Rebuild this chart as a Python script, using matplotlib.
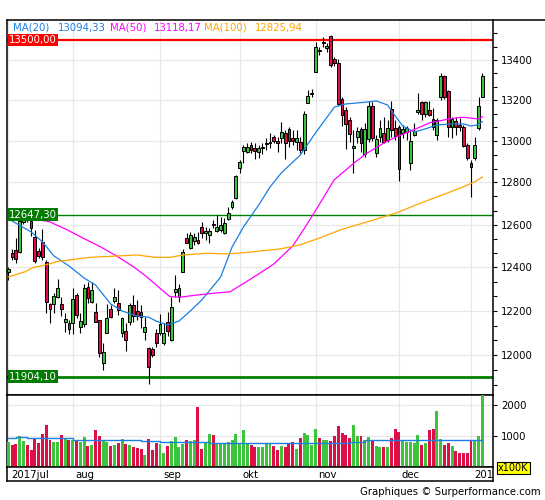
import numpy as np
import matplotlib.pyplot as plt
from matplotlib.ticker import FixedLocator, NullFormatter, FuncFormatter
from matplotlib.transforms import blended_transform_factory
from matplotlib.lines import Line2D

# daily candles, oldest first (one per trading day)
opens = [12379, 12468, 12481, 12470, 12612, 12645, 12617, 12542, 12477, 12520,
         12427, 12232, 12232, 12264, 12232, 12152, 12144, 12145, 12273, 12129,
         12143, 12308, 12239, 12196, 12159, 11963, 12101, 12207, 12247, 12235,
         12101, 12109, 12151, 12227, 12200, 12196, 12105, 12031, 12026, 12098,
         12101, 12053, 12150, 12068, 12285, 12266, 12380, 12536, 12489, 12525,
         12528, 12591, 12560, 12551, 12603, 12570, 12575, 12560, 12627, 12682,
         12724, 12868, 12953, 12948, 12981, 12964, 12948, 12968, 12986, 12992,
         13018, 13002, 13013, 13037, 13057, 13013, 12997, 12997, 12956, 13185,
         13228, 13341, 13447, 13487, 13458, 13520, 13403, 13383, 13204, 13151,
         13102, 12964, 13021, 13057, 12937, 13008, 13171, 12943, 13021, 13037,
         13005, 13154, 13062, 13070, 13037, 13045, 12895, 13029, 13140, 13190,
         13132, 13151, 13105, 13029, 13214, 13317, 13247, 13066, 13098, 13078,
         13070, 12981, 12895, 12916, 13062, 13217]
highs = [12402, 12486, 12537, 12627, 12678, 12669, 12631, 12575, 12491, 12579,
         12435, 12238, 12282, 12347, 12264, 12190, 12159, 12305, 12282, 12190,
         12324, 12333, 12334, 12235, 12159, 12053, 12232, 12227, 12304, 12296,
         12173, 12144, 12238, 12273, 12250, 12227, 12171, 12035, 12038, 12116,
         12186, 12144, 12195, 12262, 12365, 12324, 12486, 12560, 12566, 12560,
         12566, 12614, 12591, 12584, 12622, 12645, 12637, 12629, 12682, 12716,
         12836, 12908, 12981, 12989, 12997, 12992, 12981, 12992, 13013, 13037,
         13029, 13021, 13094, 13054, 13070, 13054, 13054, 13021, 13146, 13250,
         13254, 13492, 13463, 13514, 13487, 13525, 13413, 13403, 13217, 13164,
         13115, 13054, 13070, 13070, 13086, 13198, 13193, 13029, 13102, 13115,
         13102, 13198, 13102, 13078, 13078, 13073, 13049, 13086, 13237, 13198,
         13198, 13198, 13159, 13110, 13333, 13325, 13250, 13115, 13118, 13110,
         13078, 12989, 12908, 13021, 13214, 13333]
lows = [12342, 12435, 12421, 12467, 12603, 12612, 12547, 12421, 12446, 12435,
        12192, 12144, 12192, 12259, 12177, 12104, 12095, 12095, 12168, 12100,
        12128, 12236, 12235, 12150, 11993, 11934, 12098, 12166, 12235, 12181,
        12083, 12020, 12136, 12151, 12159, 12121, 12068, 11871, 11990, 12035,
        12091, 12046, 12085, 12062, 12266, 12242, 12380, 12512, 12486, 12505,
        12510, 12536, 12528, 12515, 12584, 12563, 12563, 12556, 12622, 12673,
        12721, 12844, 12892, 12940, 12940, 12911, 12916, 12937, 12956, 12964,
        12992, 12948, 12989, 12911, 12972, 12981, 12956, 12943, 12937, 13185,
        13217, 13341, 13425, 13466, 13441, 13366, 13369, 13176, 13073, 12960,
        12997, 12847, 12989, 12948, 12924, 12997, 13002, 12921, 12997, 12989,
        12997, 13018, 13005, 12809, 13013, 13005, 12860, 13024, 13132, 13102,
        13115, 13122, 13054, 13005, 13201, 13204, 13021, 13013, 13029, 13049,
        12970, 12908, 12732, 12908, 13054, 13214]
closes = [12393, 12447, 12437, 12617, 12650, 12622, 12584, 12432, 12453, 12449,
          12241, 12209, 12268, 12305, 12211, 12163, 12120, 12253, 12181, 12156,
          12305, 12259, 12296, 12151, 12011, 12013, 12166, 12173, 12262, 12204,
          12166, 12068, 12227, 12177, 12177, 12171, 12125, 11946, 12001, 12056,
          12140, 12101, 12110, 12217, 12299, 12304, 12473, 12515, 12551, 12540,
          12516, 12560, 12568, 12570, 12598, 12591, 12598, 12606, 12656, 12708,
          12831, 12900, 12969, 12969, 12956, 12953, 12964, 12973, 12989, 12995,
          13000, 12992, 13045, 12989, 13002, 13002, 13013, 12956, 13134, 13221,
          13233, 13463, 13443, 13492, 13470, 13374, 13383, 13181, 13127, 13083,
          13034, 12975, 13049, 12992, 13057, 13171, 13013, 13008, 13062, 12997,
          13062, 13054, 13024, 12863, 13057, 13062, 13000, 13050, 13151, 13132,
          13190, 13127, 13066, 13102, 13317, 13214, 13070, 13105, 13070, 13070,
          12976, 12916, 12872, 12981, 13171, 13320]
# volume in units of 100K
volumes = [811, 703, 735, 995, 832, 703, 540, 908, 768, 1059,
           1351, 865, 800, 800, 1027, 908, 865, 865, 886, 800,
           962, 670, 703, 1189, 995, 865, 800, 670, 703, 778,
           908, 735, 703, 649, 627, 595, 378, 919, 540, 778,
           735, 454, 670, 832, 973, 649, 757, 865, 832, 865,
           1946, 595, 778, 1059, 1027, 778, 778, 735, 811, 865,
           1059, 735, 1189, 745, 723, 660, 660, 660, 745, 745,
           692, 553, 692, 638, 766, 819, 585, 947, 1107, 1043,
           723, 1234, 947, 883, 883, 851, 1011, 1330, 1107, 1043,
           926, 1362, 1011, 1011, 883, 979, 851, 692, 660, 660,
           660, 947, 1234, 1139, 883, 819, 819, 766, 1043, 723,
           777, 1202, 1234, 1809, 915, 723, 787, 692, 532, 447,
           447, 447, 851, 851, 1011, 2450]

# moving averages (candle index, value)
ma20_x = [1, 6, 9, 12, 16, 20, 23, 27, 30, 34, 37, 39, 42, 45, 48, 51, 56, 59, 62,
          66, 69, 72, 77, 81, 86, 89, 95, 97, 100, 102, 104, 107, 110, 113, 117,
          120, 122, 123.5, 125]
ma20_y = [12617, 12566, 12519, 12454, 12407, 12351, 12319, 12232, 12200, 12177,
          12172, 12154, 12136, 12154, 12200, 12250, 12356, 12495, 12589, 12692,
          12778, 12846, 12932, 13039, 13166, 13181, 13191, 13196, 13176, 13122,
          13073, 13044, 13059, 13078, 13083, 13083, 13073, 13078, 13094]
ma50_x = [0, 5, 10.8, 15, 19.8, 24.2, 28.6, 33, 36.5, 40, 42.6, 45.3, 48.8, 54.1,
          58.5, 62.4, 66, 70, 75, 77.8, 81.1, 85.9, 91.2, 94.5, 96.7, 98.9, 102.2,
          106.8, 111.2, 115.6, 119.1, 120.4, 122.6, 124, 125]
ma50_y = [12645, 12631, 12614, 12580, 12536, 12497, 12453, 12403, 12357, 12304,
          12266, 12263, 12271, 12281, 12288, 12330, 12370, 12416, 12500, 12575,
          12669, 12812, 12894, 12940, 12964, 12989, 13019, 13054, 13089, 13105,
          13115, 13115, 13110, 13107, 13118]
ma100_x = [0, 4.4, 6.6, 9.7, 12.8, 15, 19.8, 21.5, 28.6, 34, 38.7, 42.6, 46.2,
           52.3, 57.6, 62.4, 71.6, 76.9, 82.2, 87.5, 96.3, 102.4, 108.6, 113.6,
           119.3, 123, 125]
ma100_y = [12356, 12380, 12400, 12411, 12427, 12432, 12443, 12447, 12453, 12458,
           12447, 12447, 12458, 12466, 12463, 12469, 12486, 12505, 12538, 12575,
           12622, 12656, 12701, 12735, 12774, 12803, 12826]
vol_ma_x = [0, 2, 5, 17, 35, 40, 53, 64, 90, 94, 121, 125]
vol_ma_y = [925, 960, 925, 885, 835, 795, 790, 775, 820, 860, 870, 875]

months = ['2017jul', 'aug', 'sep', 'okt', 'nov', 'dec', '2018']
month_idx = [0, 17, 40, 61, 81, 103, 122]
price_ticks = [12000, 12200, 12400, 12600, 12800, 13000, 13200, 13400]
levels = [13500.00, 12647.30, 11904.10]

GREEN = '#3cc43c'
RED = '#dc0f46'
C20, C50, C100 = '#1a7fe0', '#ff00ff', '#ffa500'
GRID = '#e8e8e8'
FS = 7.3

W, H = 545, 500
fig = plt.figure(figsize=(W / 100, H / 100), dpi=100)


def px_axes(x0, y0, x1, y1):
    return fig.add_axes([x0 / W, 1 - y1 / H, (x1 - x0) / W, (y1 - y0) / H])


ax = px_axes(7, 20, 493, 395)
axv = px_axes(7, 395, 493, 467)
axd = px_axes(7, 467, 493, 481)

x = np.arange(len(opens))
o = np.array(opens, float)
c = np.array(closes, float)
col = np.where(c >= o, GREEN, RED)
xlim = (-0.34, 127.8)

# price panel
ax.set_yscale('log')
ax.vlines(x, lows, highs, color='black', lw=0.8, zorder=3)
ax.bar(x, np.maximum(np.abs(c - o), 4), bottom=np.minimum(o, c), width=0.75,
       color=col, edgecolor='black', linewidth=0.7, zorder=4)
ax.plot(ma20_x, ma20_y, color=C20, lw=0.9, zorder=5)
ax.plot(ma50_x, ma50_y, color=C50, lw=0.9, zorder=5)
ax.plot(ma100_x, ma100_y, color=C100, lw=0.9, zorder=5)

ax.axhline(levels[0], color='#ff0000', lw=1.6, zorder=2)
ax.axhline(levels[1], color='#008000', lw=1.0, zorder=2)
ax.axhline(levels[2], color='#008000', lw=2.0, zorder=2)
tr = blended_transform_factory(ax.transAxes, ax.transData)
for lv, bg in zip(levels, ['#ff0000', '#007a00', '#007a00']):
    ax.text(0.004, lv, f'{lv:.2f}'.replace('.', ','), transform=tr, fontsize=FS,
            color='white', ha='left', va='center', zorder=10,
            bbox=dict(boxstyle='square,pad=0.12', fc=bg, ec='none'))

ax.set_xlim(*xlim)
ax.set_ylim(11823, 13601)
ax.set_xticks(month_idx)
ax.tick_params(axis='x', length=0, labelbottom=False)
ax.yaxis.tick_right()
ax.yaxis.set_major_locator(FixedLocator(price_ticks))
ax.yaxis.set_major_formatter(FuncFormatter(lambda v, p: f'{v:.0f}'))
minor = [11800 + k * 200 / 3 for k in range(28) if k % 3]
ax.yaxis.set_minor_locator(FixedLocator(minor))
ax.yaxis.set_minor_formatter(NullFormatter())
ax.tick_params(axis='y', which='both', direction='out', length=3, width=0.8,
               labelsize=FS, pad=3)
ax.grid(True, which='major', color=GRID, lw=0.9)
ax.set_axisbelow(True)

# MA legend at top
for xp, s, cc in [(13, 'MA(20)', C20), (57.5, '13094,33', C20),
                  (110, 'MA(50)', C50), (153.5, '13118,17', C50),
                  (204, 'MA(100)', C100), (255, '12825,94', C100)]:
    fig.text(xp / W, 1 - 28 / H, s, color=cc, fontsize=FS, ha='left', va='center')

# volume panel
axv.bar(x, volumes, width=0.78, color=col, zorder=3)
axv.plot(vol_ma_x, vol_ma_y, color=C20, lw=1.0, drawstyle='steps-post', zorder=4)
axv.set_xlim(*xlim)
axv.set_ylim(0, 2323)
axv.set_xticks(month_idx)
axv.tick_params(axis='x', length=0, labelbottom=False)
axv.yaxis.tick_right()
axv.set_yticks([1000, 2000])
axv.tick_params(axis='y', direction='out', length=3, width=0.8, labelsize=FS, pad=3)
axv.grid(True, color=GRID, lw=0.9)
axv.set_axisbelow(True)

# date strip
axd.set_xlim(*xlim)
axd.set_ylim(0, 1)
axd.set_xticks([])
axd.set_yticks([])
for m, lab in zip(month_idx, months):
    axd.text(m + 0.8, 0.45, lab, fontsize=FS, ha='left', va='center', clip_on=True)

for a in (ax, axv, axd):
    for sp in a.spines.values():
        sp.set_linewidth(1.1)

fig.add_artist(Line2D([493 / W, 1], [1 - 20 / H, 1 - 20 / H], color='black', lw=1.1))
fig.text(498 / W, 1 - 468 / H, 'x100K', fontsize=7, ha='left', va='center',
         bbox=dict(boxstyle='square,pad=0.15', fc='#ffff00', ec='black', lw=0.8))
fig.text(541 / W, 1 - 492 / H, 'Graphiques \u00a9 Surperformance.com', fontsize=FS,
         ha='right', va='center')

fig.savefig('out.png', dpi=100)
